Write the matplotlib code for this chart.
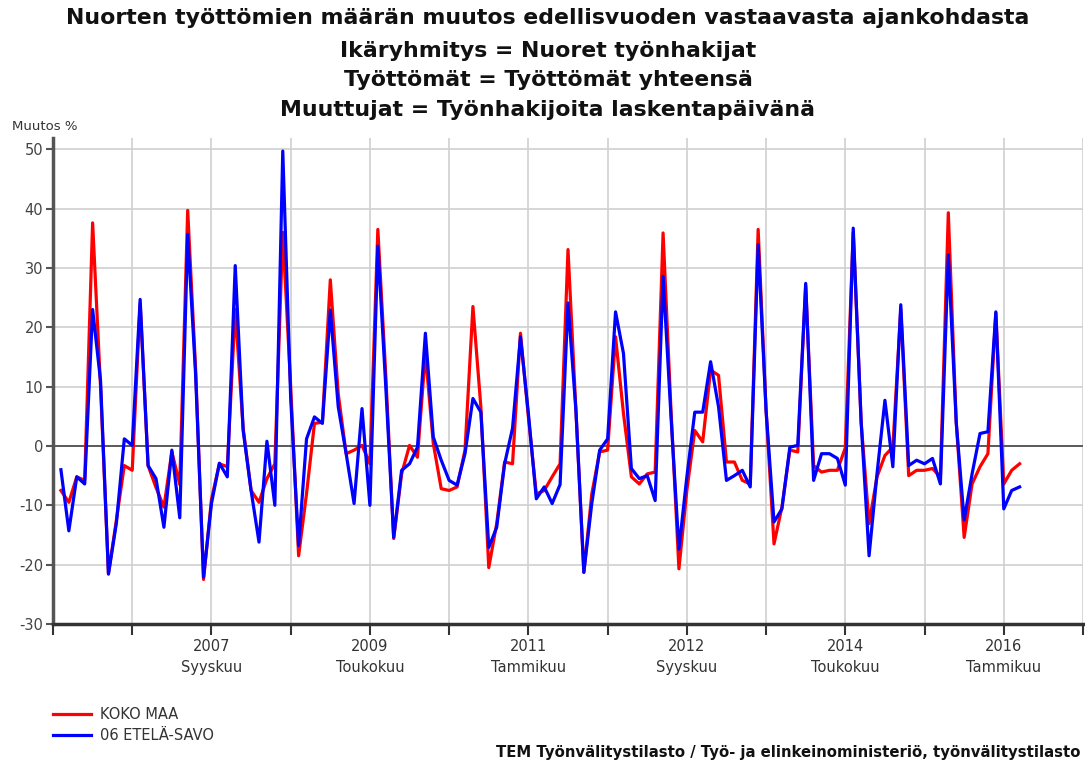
#!/usr/bin/env python3
"""Nuorten tyottomien maaran muutos - KOKO MAA vs 06 ETELA-SAVO"""

import numpy as np
import matplotlib
matplotlib.use('Agg')
import matplotlib.pyplot as plt

plt.rcParams['font.family'] = ['DejaVu Sans']

# Monthly series, first value = February 2006 (month index 1, index 0 = Jan 2006)
first_month = 1
koko_maa = [
    -7.5, -9.5, -5.2, -5.8, 37.6, 10.0, -21.5, -12.5, -3.3, -4.1,
    24.0, -3.3, -7.0, -10.3, -1.0, -6.5, 39.7, 13.0, -22.5, -9.0,
    -3.0, -3.5, 23.0, 3.0, -7.5, -9.5, -5.5, -3.0, 36.0, 10.0,
    -18.5, -8.0, 3.8, 4.0, 28.0, 8.8, -1.3, -0.7, 0.1, -3.0,
    36.5, 12.0, -15.6, -4.7, 0.1, -1.9, 15.6, 0.4, -7.2, -7.5,
    -6.9, -0.7, 23.5, 6.6, -20.5, -13.1, -2.7, -3.0, 19.0, 4.9,
    -8.1, -7.5, -5.2, -3.0, 33.1, 6.0, -21.3, -8.1, -1.0, -0.7,
    18.4, 5.5, -5.2, -6.4, -4.7, -4.4, 35.9, 6.0, -20.7, -7.5,
    2.6, 0.7, 12.8, 11.9, -2.7, -2.7, -5.8, -6.4, 36.5, 6.0,
    -16.5, -10.3, -0.7, -1.0, 27.0, -3.3, -4.4, -4.1, -4.1, -0.3,
    36.0, 4.0, -13.1, -5.2, -1.6, -0.2, 23.0, -5.0, -4.1, -4.1,
    -3.8, -5.2, 39.3, 4.0, -15.4, -6.4, -3.5, -1.3, 22.4, -6.4,
    -4.1, -3.0,
]
etela_savo = [
    -4.0, -14.3, -5.2, -6.4, 23.0, 11.0, -21.6, -13.0, 1.2, 0.1,
    24.7, -3.3, -5.5, -13.7, -0.7, -12.1, 35.7, 12.0, -22.1, -9.7,
    -2.9, -5.2, 30.4, 2.6, -7.5, -16.2, 0.8, -10.0, 49.7, 8.0,
    -16.8, 1.2, 4.9, 3.8, 22.9, 6.6, -1.3, -9.7, 6.3, -10.0,
    33.7, 10.0, -15.4, -4.1, -3.0, -0.2, 19.0, 1.5, -2.4, -5.8,
    -6.6, -1.3, 8.0, 5.7, -17.1, -13.7, -3.0, 3.0, 18.4, 5.5,
    -8.9, -6.9, -9.7, -6.5, 24.1, 6.0, -21.3, -9.7, -0.7, 1.2,
    22.6, 15.6, -3.8, -5.5, -5.0, -9.2, 28.6, 5.0, -17.4, -5.2,
    5.7, 5.7, 14.2, 6.6, -5.8, -5.0, -4.1, -6.9, 33.9, 6.0,
    -12.8, -10.6, -0.2, 0.1, 27.4, -5.8, -1.3, -1.3, -2.1, -6.6,
    36.7, 4.0, -18.5, -4.7, 7.7, -3.5, 23.8, -3.3, -2.4, -3.0,
    -2.1, -6.4, 32.2, 4.0, -12.5, -4.7, 2.1, 2.4, 22.6, -10.6,
    -7.5, -6.9,
]
x_ticks = [0, 10, 20, 30, 40, 50, 60, 70, 80, 90, 100, 110, 120, 130]
x_labels = ['', '', '2007\nSyyskuu', '', '2009\nToukokuu', '', '2011\nTammikuu',
            '', '2012\nSyyskuu', '', '2014\nToukokuu', '', '2016\nTammikuu', '']
y_ticks = [-30, -20, -10, 0, 10, 20, 30, 40, 50]

title_lines = [
    'Nuorten työttömien määrän muutos edellisvuoden vastaavasta ajankohdasta',
    'Ikäryhmitys = Nuoret työnhakijat',
    'Työttömät = Työttömät yhteensä',
    'Muuttujat = Työnhakijoita laskentapäivänä',
]

fig = plt.figure(figsize=(10.85, 7.65), dpi=100)
ax = fig.add_axes([53/1085, 1-624/765, 1030/1085, 486/765])

months = np.arange(first_month, first_month + len(koko_maa))
ax.plot(months, koko_maa, color='#ff0000', lw=2.3, label='KOKO MAA', zorder=3)
ax.plot(months, etela_savo, color='#0000ff', lw=2.3, label='06 ETELÄ-SAVO', zorder=4)

ax.set_xlim(0, 130)
ax.set_ylim(-30, 51.9)
ax.set_xticks(x_ticks)
ax.set_xticklabels(x_labels, fontsize=10.5, color='#333333', linespacing=1.45)
ax.set_yticks(y_ticks)
ax.set_yticklabels([str(v) for v in y_ticks], fontsize=10.5, color='#444444')
ax.grid(True, color='#d0d0d0', lw=1.2)
ax.axhline(0, color='#505050', lw=1.3, zorder=2)
ax.set_axisbelow(True)

for side in ['top', 'right']:
    ax.spines[side].set_visible(False)
ax.spines['left'].set_color('#555555')
ax.spines['left'].set_linewidth(2.5)
ax.spines['bottom'].set_color('#333333')
ax.spines['bottom'].set_linewidth(2.5)
ax.tick_params(axis='x', length=8, width=1.5, color='#333333', pad=3)
ax.tick_params(axis='y', length=5, width=1.5, color='#555555', pad=2)

# Titles
title_y = [18, 51, 80, 110]
for txt, yy in zip(title_lines, title_y):
    fig.text(548/1085, 1-yy/765, txt, ha='center', va='center',
             fontsize=15.8, fontweight='bold', color='#111111')

fig.text(12/1085, 1-127/765, 'Muutos %', ha='left', va='center', fontsize=9.5, color='#333333')

leg = fig.legend(loc='upper left', bbox_to_anchor=(40/1085, 1-694/765), frameon=False,
                 fontsize=10.5, handlelength=2.6, labelspacing=0.4, handletextpad=0.6)
for t in leg.get_texts():
    t.set_color('#333333')

fig.text(1080/1085, 1-752/765,
         'TEM Työnvälitystilasto / Työ- ja elinkeinoministeriö, työnvälitystilasto',
         ha='right', va='center', fontsize=10.7, fontweight='bold', color='#111111')

fig.savefig('out.png', dpi=100)
